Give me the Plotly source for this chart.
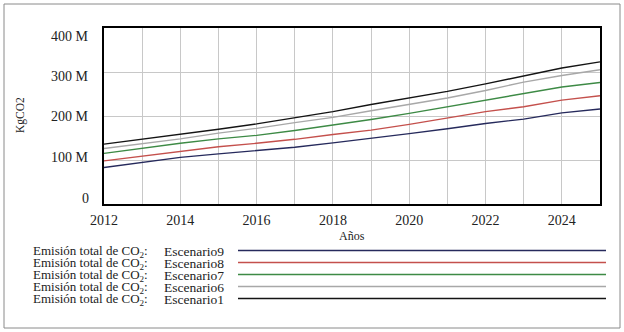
import plotly.graph_objects as go

years = list(range(2012, 2026))
escenario9 = [83, 95, 106, 114, 121, 129, 139, 149, 160, 171, 183, 193, 207, 216]
escenario8 = [98, 109, 120, 130, 138, 147, 158, 168, 181, 196, 210, 221, 236, 246]
escenario7 = [115, 127, 138, 148, 156, 167, 179, 192, 206, 221, 237, 251, 266, 276]
escenario6 = [126, 137, 148, 161, 172, 185, 197, 212, 226, 241, 258, 277, 292, 305]
escenario1 = [136, 147, 158, 170, 182, 196, 210, 226, 241, 256, 273, 291, 309, 323]

series_names = ["Escenario9", "Escenario8", "Escenario7", "Escenario6", "Escenario1"]
series_values = [escenario9, escenario8, escenario7, escenario6, escenario1]
series_colors = ["#262a5c", "#c4504c", "#3d8a45", "#a8a8a8", "#141414"]

x_tick_vals = years
x_tick_labels = [str(y) if y % 2 == 0 else "" for y in years]
y_tick_vals = [0, 100, 200, 300, 400]
y_tick_labels = ["0", "100 M", "200 M", "300 M", "400 M"]

W, H = 624, 332
ML, MR, MT, MB = 104, 24, 28, 128
PW, PH = W - ML - MR, H - MT - MB

def px(x):
    return (x - ML) / PW

def py(y):
    return (H - MB - y) / PH

fig = go.Figure()
for name, vals, col in zip(series_names, series_values, series_colors):
    fig.add_trace(go.Scatter(x=years, y=vals, mode="lines", name=name,
                             line=dict(color=col, width=1.4), showlegend=False))

serif = "Liberation Serif, Times New Roman, serif"

fig.update_layout(
    width=W, height=H,
    margin=dict(l=ML, r=MR, t=MT, b=MB),
    paper_bgcolor="white", plot_bgcolor="white",
    font=dict(family=serif, size=14, color="#222"),
    xaxis=dict(range=[2012, 2025], tickvals=x_tick_vals, ticktext=x_tick_labels,
               showgrid=True, gridcolor="#c8c8c8", gridwidth=1,
               showline=True, linecolor="black", linewidth=2, mirror=True,
               ticks="", zeroline=False, tickfont=dict(size=14),
               ticklabelstandoff=2),
    yaxis=dict(range=[0, 400], tickvals=y_tick_vals, showticklabels=False,
               showgrid=True, gridcolor="#c8c8c8", gridwidth=1,
               showline=True, linecolor="black", linewidth=2, mirror=True,
               ticks="", zeroline=False),
)

shapes = []
annotations = []
# outer frame
shapes.append(dict(type="rect", xref="paper", yref="paper",
                   x0=px(4), x1=px(620), y0=py(328), y1=py(4),
                   line=dict(color="#8a8a8a", width=1), fillcolor="rgba(0,0,0,0)"))

# y tick labels (evenly spaced column, slightly compressed vs. the gridlines)
label_rows_y = [198, 157.5, 117, 76.5, 36.5]
for lab, ly in zip(y_tick_labels, label_rows_y):
    annotations.append(dict(text=lab, xref="paper", yref="paper", x=px(91), y=py(ly),
                            showarrow=False, xanchor="right", yanchor="middle",
                            font=dict(family=serif, size=14, color="#222")))

# axis titles
annotations.append(dict(text="Años", xref="paper", yref="paper", x=px(352), y=py(236),
                        showarrow=False, font=dict(family=serif, size=12, color="#222"),
                        xanchor="center", yanchor="middle"))
annotations.append(dict(text="KgCO2", xref="paper", yref="paper", x=px(21), y=py(115),
                        showarrow=False, textangle=-90,
                        font=dict(family=serif, size=11.5, color="#222"),
                        xanchor="center", yanchor="middle"))

# legend rows
legend_rows_y = [251.5, 263.5, 275.5, 287.5, 299.5]
for name, col, ry in zip(series_names, series_colors, legend_rows_y):
    annotations.append(dict(text="Emisión total de CO<sub>2</sub>:",
                            xref="paper", yref="paper", x=px(31), y=py(ry),
                            showarrow=False, xanchor="left", yanchor="middle",
                            font=dict(family=serif, size=13, color="#222")))
    annotations.append(dict(text=name,
                            xref="paper", yref="paper", x=px(162), y=py(ry),
                            showarrow=False, xanchor="left", yanchor="middle",
                            font=dict(family=serif, size=13.5, color="#222")))
    shapes.append(dict(type="line", xref="paper", yref="paper",
                       x0=px(238), x1=px(606), y0=py(ry - 1), y1=py(ry - 1),
                       line=dict(color=col, width=1.5)))

fig.update_layout(shapes=shapes, annotations=annotations)
fig.write_html("out.html", config={"displayModeBar": False},
               post_script="document.body.style.margin='0';")
